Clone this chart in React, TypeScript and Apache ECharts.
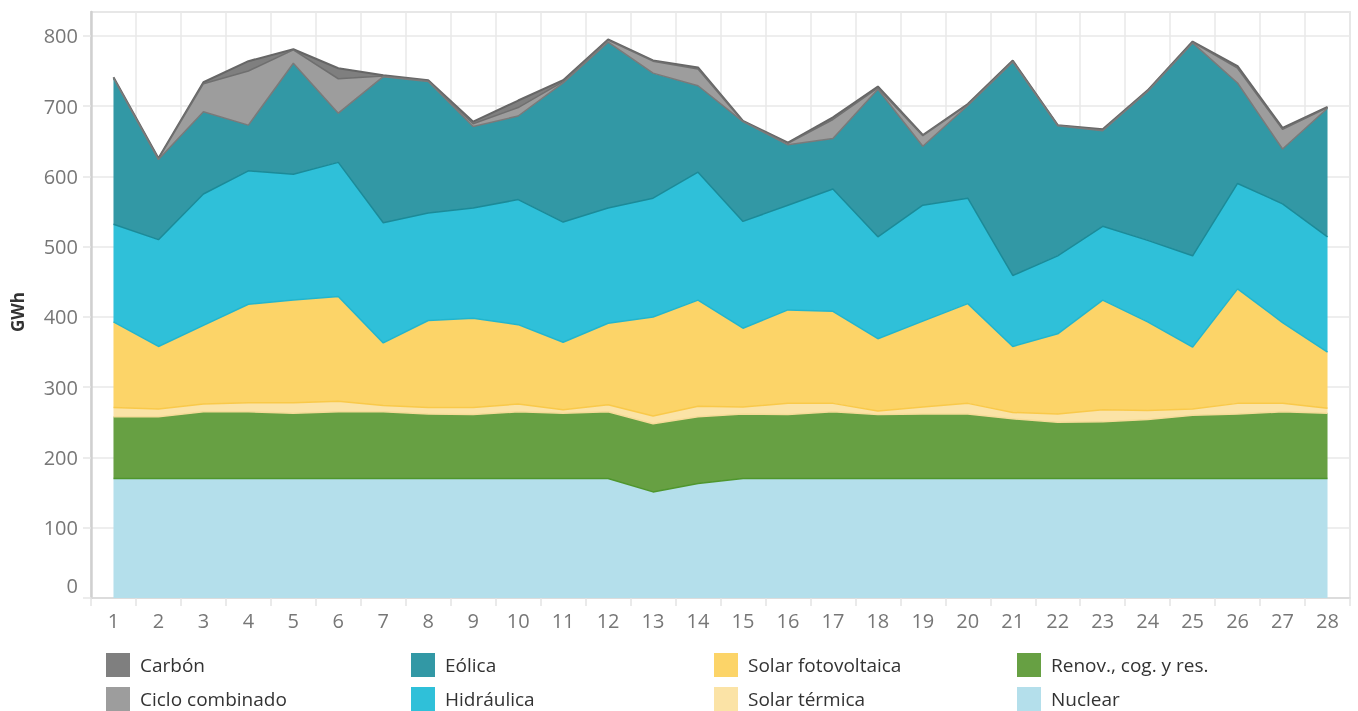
import React, { useEffect, useRef } from "react";
import * as echarts from "echarts";

const days = ["1","2","3","4","5","6","7","8","9","10","11","12","13","14","15","16","17","18","19","20","21","22","23","24","25","26","27","28"];

const nuclear = [170,170,170,170,170,170,170,170,170,170,170,170,151,163,170,170,170,170,170,170,170,170,170,170,170,170,170,170];
const renov = [88,88,95,95,93,95,95,92,91,95,93,95,97,95,92,91,95,91,92,92,85,80,81,84,90,92,95,93];
const solarTermica = [13,11,11,13,15,15,9,9,10,11,5,10,11,15,10,16,12,5,10,15,9,12,17,13,9,15,12,7];
const solarFV = [122,89,112,140,146,149,89,124,127,113,96,116,141,151,112,133,131,103,122,142,94,114,156,126,88,163,115,80];
const hidraulica = [139,152,187,190,179,191,171,153,157,178,171,164,169,182,152,149,174,145,165,150,101,111,105,116,130,150,169,164];
const eolica = [208,114,117,65,158,70,208,187,116,119,198,236,178,123,142,86,72,210,84,132,304,185,136,212,303,143,78,183];
const ciclo = [0,1,40,77,19,49,1,1,4,12,2,3,17,24,0,2,27,2,15,1,1,0.5,1,1,1,21,28,1];
const carbon = [1,1,2,14,1,15,1,1,3,10,2,1,1,2,1,1,3,2,1,1,1,0.5,1,0.5,1,3,2,1];

const yTicks = [0,100,200,300,400,500,600,700,800];

const FONT = "'Open Sans', sans-serif";

export default function App() {
  const ref = useRef<HTMLDivElement>(null);
  useEffect(() => {
    if (!ref.current) return;
    const chart = echarts.init(ref.current, null, { renderer: "svg" });
    const mk = (name: string, data: number[], fill: string, line: string, z: number, lw = 1.5) => ({
      name,
      type: "line",
      stack: "total",
      data,
      symbol: "none",
      showSymbol: false,
      z,
      itemStyle: { color: fill },
      lineStyle: { color: line, width: lw },
      areaStyle: { color: fill, opacity: 1 },
      emphasis: { disabled: true },
    });
    const legendBase = {
      orient: "vertical",
      top: 653,
      height: 58,
      padding: 0,
      itemWidth: 24,
      itemHeight: 24,
      itemGap: 10,
      icon: "rect",
      selectedMode: false,
      textStyle: { fontFamily: FONT, fontSize: 19, color: "#333", padding: [0, 0, 0, 5] },
    };
    chart.setOption({
      animation: false,
      grid: { left: 91, right: 8, top: 12, bottom: 113, show: true, borderColor: "#d9d9d9", borderWidth: 1.5 },
      legend: [
        { ...legendBase, left: 106, data: ["Carbón", "Ciclo combinado"] },
        { ...legendBase, left: 411, data: ["Eólica", "Hidráulica"] },
        { ...legendBase, left: 714, data: ["Solar fotovoltaica", "Solar térmica"] },
        { ...legendBase, left: 1017, data: ["Renov., cog. y res.", "Nuclear"] },
      ],
      xAxis: {
        type: "category",
        data: days,
        boundaryGap: true,
        axisLine: { show: true, lineStyle: { color: "#d9d9d9", width: 1.5 } },
        axisTick: { show: true, interval: 0, length: 8, lineStyle: { color: "#e3e3e3", width: 1.5 } },
        splitLine: { show: true, interval: 0, lineStyle: { color: "#e8e8e8", width: 1.5 } },
        axisLabel: { interval: 0, color: "#777", fontSize: 20, fontFamily: FONT, margin: 12 },
      },
      yAxis: {
        type: "value",
        min: 0,
        max: 834,
        interval: 100,
        axisLine: { show: true, lineStyle: { color: "#d0d0d0", width: 2.5 } },
        axisTick: { show: true, length: 8, lineStyle: { color: "#e6e6e6", width: 1.5 } },
        splitLine: { show: true, lineStyle: { color: "#e8e8e8", width: 1.5 } },
        axisLabel: {
          showMaxLabel: false,
          color: "#777",
          fontSize: 20,
          fontFamily: FONT,
          margin: 13,
          formatter: (v: number) => (v === 0 ? "{z|0}" : yTicks.includes(v) ? String(v) : ""),
          rich: { z: { color: "#777", fontSize: 20, fontFamily: FONT, padding: [0, 0, 26, 0] } },
        },
      },
      graphic: [
        {
          type: "text",
          x: 17,
          y: 312,
          rotation: Math.PI / 2,
          style: { text: "GWh", fontFamily: FONT, fontSize: 17, fontWeight: 700, fill: "#333", align: "center", verticalAlign: "middle" },
        },
      ],
      series: [
        mk("Nuclear", nuclear, "#b4dfeb", "#4f962d", 20),
        mk("Renov., cog. y res.", renov, "#67a043", "#f6db98", 19),
        mk("Solar térmica", solarTermica, "#fbe3a6", "#f9c94a", 18),
        mk("Solar fotovoltaica", solarFV, "#fcd468", "#22b5cd", 17),
        mk("Hidráulica", hidraulica, "#2fc0d9", "#1b8a98", 16),
        mk("Eólica", eolica, "#3298a5", "#7a7a7a", 15),
        mk("Ciclo combinado", ciclo, "#9d9d9d", "#6f6f6f", 14),
        mk("Carbón", carbon, "#7f7f7f", "#666666", 13, 2),
      ],
    });
    return () => chart.dispose();
  }, []);
  return <div ref={ref} style={{ position: "fixed", left: 0, top: 0, width: 1358, height: 711 }} />;
}
